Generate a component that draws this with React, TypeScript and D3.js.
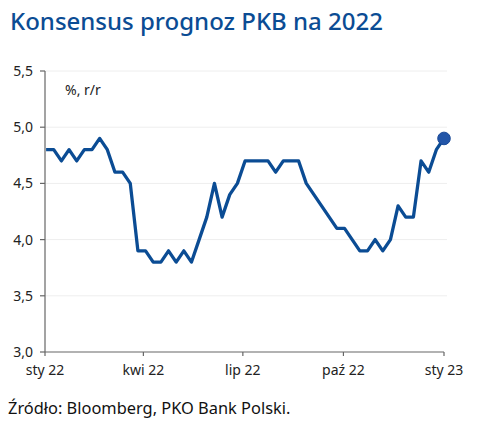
import React from "react";
import * as d3 from "d3";

const startDate = new Date(2022, 0, 2);
const values: number[] = [
  4.8, 4.8, 4.7, 4.8, 4.7, 4.8, 4.8, 4.9, 4.8, 4.6, 4.6, 4.5, 3.9, 3.9, 3.8, 3.8,
  3.9, 3.8, 3.9, 3.8, 4.0, 4.2, 4.5, 4.2, 4.4, 4.5, 4.7, 4.7, 4.7, 4.7, 4.6, 4.7,
  4.7, 4.7, 4.5, 4.4, 4.3, 4.2, 4.1, 4.1, 4.0, 3.9, 3.9, 4.0, 3.9, 4.0, 4.3, 4.2,
  4.2, 4.7, 4.6, 4.8, 4.9,
];
const yTicks: number[] = [3.0, 3.5, 4.0, 4.5, 5.0, 5.5];
const xTickDates: Date[] = [
  new Date(2022, 0, 1),
  new Date(2022, 3, 1),
  new Date(2022, 6, 1),
  new Date(2022, 9, 1),
  new Date(2023, 0, 1),
];
const xTickLabels: string[] = ["sty 22", "kwi 22", "lip 22", "paź 22", "sty 23"];
const title = "Konsensus prognoz PKB na 2022";
const unitLabel = "%, r/r";
const source = "Źródło: Bloomberg, PKO Bank Polski.";

const W = 482;
const H = 439;
const left = 45;
const right = 444;
const top = 71;
const bottom = 352;
const FONT = "'Noto Sans', sans-serif";
const BLUE = "#0b4c94";

export default function App() {
  const data = values.map((v, i) => ({ date: d3.timeDay.offset(startDate, i * 7), v }));
  const x = d3.scaleTime().domain([xTickDates[0], xTickDates[4]]).range([left, right]);
  const y = d3.scaleLinear().domain([3, 5.5]).range([bottom, top]);
  const line = d3
    .line<{ date: Date; v: number }>()
    .x((d) => x(d.date))
    .y((d) => y(d.v));
  const last = data[data.length - 1];

  return (
    <svg
      width={W}
      height={H}
      style={{ position: "absolute", left: 0, top: 0, background: "#fff" }}
      fontFamily={FONT}
    >
      <text x={10} y={30} fontSize={24} fontWeight={500} fill={BLUE}>
        {title}
      </text>
      {yTicks.slice(1).map((t) => (
        <line key={"g" + t} x1={left} x2={right + 3} y1={y(t)} y2={y(t)} stroke="#eeeeee" strokeWidth={1} />
      ))}
      <line x1={left} x2={left} y1={top} y2={bottom} stroke="#666" strokeWidth={1.2} />
      <line x1={left} x2={right} y1={bottom} y2={bottom} stroke="#666" strokeWidth={1.2} />
      {yTicks.map((t) => (
        <g key={"y" + t}>
          <line x1={left - 5} x2={left} y1={y(t)} y2={y(t)} stroke="#666" strokeWidth={1.2} />
          <text x={33} y={y(t) + 5} textAnchor="end" fontSize={14} fill="#222">
            {t.toFixed(1).replace(".", ",")}
          </text>
        </g>
      ))}
      {xTickDates.map((d, i) => (
        <g key={"x" + i}>
          <line x1={x(d)} x2={x(d)} y1={bottom} y2={bottom + 4} stroke="#666" strokeWidth={1.2} />
          <text x={x(d)} y={375} textAnchor="middle" fontSize={14} fill="#222">
            {xTickLabels[i]}
          </text>
        </g>
      ))}
      <text x={65} y={95} fontSize={14} fill="#222">
        {unitLabel}
      </text>
      <path d={line(data) || ""} fill="none" stroke={BLUE} strokeWidth={3.3} strokeLinejoin="round" />
      <circle cx={x(last.date)} cy={y(last.v)} r={6.3} fill="#2255a8" stroke="#1a4a98" strokeWidth={1} />
      <text x={8} y={414} fontSize={16.4} fill="#111">
        {source}
      </text>
    </svg>
  );
}
